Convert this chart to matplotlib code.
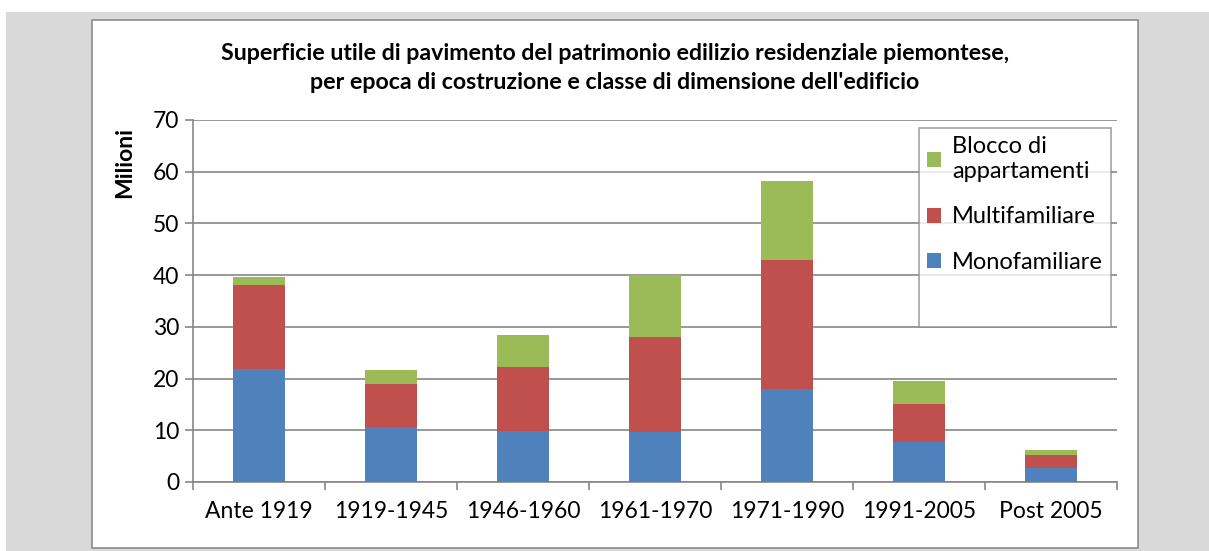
import matplotlib
matplotlib.use("Agg")
import matplotlib.pyplot as plt
from matplotlib.patches import Rectangle, Patch
import numpy as np

plt.rcParams['font.family'] = ['Lato', 'DejaVu Sans']

# Data (milioni di m2)
categories = ['Ante 1919', '1919-1945', '1946-1960', '1961-1970',
              '1971-1990', '1991-2005', 'Post 2005']
monofamiliare = [21.8, 10.6, 9.9, 9.7, 18.0, 7.8, 2.8]
multifamiliare = [16.2, 8.3, 12.25, 18.4, 25.0, 7.3, 2.35]
blocco = [1.7, 2.8, 6.25, 11.95, 15.2, 4.4, 1.1]

BLUE = '#4F81BD'
RED = '#C0504D'
GREEN = '#9BBB59'
GRID = '#868686'

W, H = 1209, 551
fig = plt.figure(figsize=(W / 100, H / 100), dpi=100)

# outer gray background and white chart area
fig.patches.append(Rectangle((6 / W, 0), 1 - 6 / W, (H - 12) / H,
                             transform=fig.transFigure, facecolor='#d9d9d9',
                             edgecolor='none', zorder=-2))
fig.patches.append(Rectangle((92 / W, (H - 548) / H), (1138 - 92) / W, (548 - 20) / H,
                             transform=fig.transFigure, facecolor='white',
                             edgecolor='#8c8c8c', linewidth=1.2, zorder=-1))

ax = fig.add_axes([193 / W, (H - 482) / H, (1117 - 193) / W, (482 - 120) / H])
ax.set_facecolor('none')

x = np.arange(len(categories))
mono = np.array(monofamiliare)
multi = np.array(multifamiliare)
bl = np.array(blocco)
width = 0.4
ax.bar(x, mono, width, color=BLUE, label='Monofamiliare', zorder=3)
ax.bar(x, multi, width, bottom=mono, color=RED, label='Multifamiliare', zorder=3)
ax.bar(x, bl, width, bottom=mono + multi, color=GREEN,
       label='Blocco di\nappartamenti', zorder=3)

ax.set_xlim(-0.5, len(categories) - 0.5)
ax.set_ylim(0, 70)
ax.set_yticks(range(0, 71, 10))
ax.yaxis.grid(True, color=GRID, linewidth=1.2, zorder=0)
ax.set_xticks(x)
ax.set_xticklabels(categories)
ax.set_xticks(np.arange(-0.5, len(categories)), minor=True)
ax.tick_params(axis='x', which='major', length=0, pad=14, labelsize=16.5)
ax.tick_params(axis='x', which='minor', length=6, color=GRID, width=1.2)
ax.tick_params(axis='y', length=6, color=GRID, width=1.2, pad=4, labelsize=16.5)
for s in ['top', 'right']:
    ax.spines[s].set_visible(False)
for s in ['left', 'bottom']:
    ax.spines[s].set_color(GRID)
    ax.spines[s].set_linewidth(1.2)

# legend (Excel leaves empty room below the last entry)
handles, labels = ax.get_legend_handles_labels()
handles = handles[::-1] + [Patch(facecolor='none', edgecolor='none')]
labels = labels[::-1] + [' ']
leg = ax.legend(handles, labels, loc='upper left',
                bbox_to_anchor=(919 / W, (H - 128) / H), bbox_transform=fig.transFigure,
                fontsize=17, frameon=True, fancybox=False, edgecolor='#8c8c8c',
                handlelength=0.6, handleheight=0.6, handletextpad=0.45,
                labelspacing=1.05, borderpad=0.35, borderaxespad=0)
leg.get_frame().set_linewidth(1.2)
leg.set_zorder(5)
for t in leg.get_texts():
    t.set_linespacing(1.2)

fig.text(615 / W, 1 - 68 / H,
         "Superficie utile di pavimento del patrimonio edilizio residenziale piemontese,\n"
         "per epoca di costruzione e classe di dimensione dell'edificio",
         ha='center', va='center', fontsize=16.7, fontweight='bold', linespacing=1.45)
fig.text(125 / W, 1 - 162 / H, 'Milioni', rotation=90, ha='center', va='center',
         fontsize=16.5, fontweight='bold')

fig.savefig('out.png', dpi=100)
